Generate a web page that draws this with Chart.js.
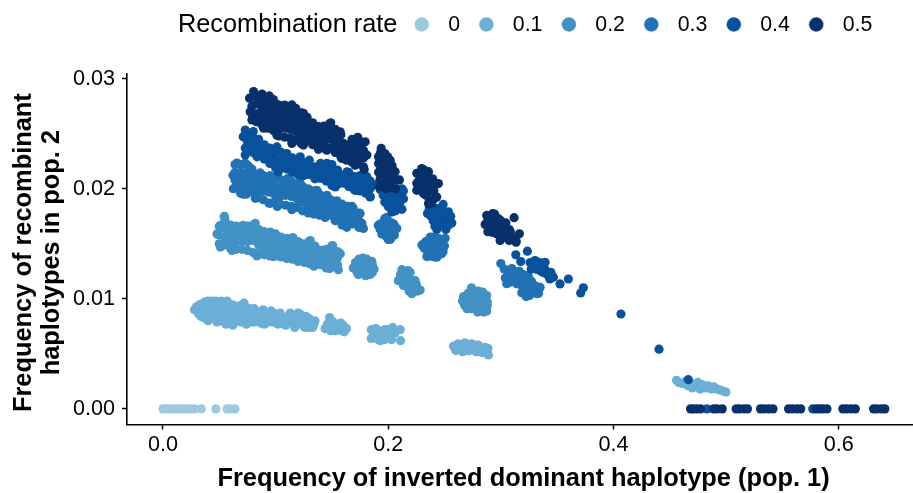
<!DOCTYPE html>
<html><head><meta charset="utf-8">
<style>html,body{margin:0;padding:0;background:#fff}canvas{display:block}</style>
<script src="https://cdn.jsdelivr.net/npm/chart.js@4"></script>
</head><body><canvas id="c" width="913" height="493"></canvas>
<script>
const xTitle = 'Frequency of inverted dominant haplotype (pop. 1)';
const yTitle = ['Frequency of recombinant', 'haplotypes in pop. 2'];
const legendTitle = 'Recombination rate';
const rateLabels = ['0', '0.1', '0.2', '0.3', '0.4', '0.5'];
const rateColors = ['#9ECAE1', '#6BAED6', '#4292C6', '#2171B5', '#08519C', '#08306B'];
const xTicks = [0, 0.2, 0.4, 0.6];
const yTicks = [0, 0.01, 0.02, 0.03];

const rate00 = [[0,0],[.003,0],[.006,0],[.009,0],[.012,0],[.015,0],[.018,0],[.02,0],[.024,0],[.028,0],[.034,0],[.047,0],[.057,0],[.06,0],[.064,0]];

const rate01 = [
[.028,.0090],[.030,.0093],[.031,.0088],[.033,.0095],[.034,.0084],[.035,.0091],[.037,.0097],[.038,.0086],[.039,.0082],[.041,.0094],[.042,.0089],[.044,.0098],[.045,.0085],[.046,.0091],[.048,.0079],[.049,.0095],[.05,.0087],[.052,.0098],[.054,.0083],[.055,.0092],[.057,.0098],[.058,.0079],[.06,.0087],[.062,.0076],[.063,.0094],[.066,.0083],[.068,.0090],[.07,.0079],[.072,.0096],[.075,.0085],[.077,.0091],[.079,.0079],[.082,.0088],[.084,.0083],[.087,.0078],[.089,.0090],[.092,.0085],[.094,.0079],[.096,.0089],[.099,.0083],[.102,.0077],[.104,.0087],[.107,.0081],[.109,.0076],[.112,.0085],[.115,.0079],[.117,.0074],[.12,.0087],[.122,.0082],[.125,.0075],[.127,.0084],[.13,.0078],[.133,.0074],[.135,.0080],
[.032,.0086],[.032,.0092],[.036,.0083],[.036,.0089],[.036,.0095],[.04,.0098],[.04,.0092],[.04,.0086],[.04,.008],[.044,.0088],[.044,.0082],[.047,.0098],[.047,.0093],[.047,.0082],[.051,.0092],[.051,.0086],[.051,.008],[.056,.0095],[.056,.0089],[.056,.0083],[.056,.0077],[.06,.0095],[.06,.0091],[.06,.008],[.065,.0092],[.065,.0088],[.065,.0079],[.069,.0094],[.069,.0086],[.069,.0081],[.074,.0092],[.074,.0087],[.074,.0081],[.074,.0077],[.078,.0086],[.078,.0082],[.081,.0091],[.081,.0085],[.081,.0079],[.086,.0087],[.086,.0082],[.09,.0086],[.09,.0082],[.09,.0077],[.095,.0084],[.095,.0087],[.098,.0087],[.098,.0079],[.101,.0085],[.101,.008],[.105,.0083],[.105,.0078],[.11,.0083],[.11,.0079],[.113,.0087],[.113,.0081],[.118,.0082],[.118,.0078],[.122,.0086],[.122,.0078],[.126,.008],[.126,.0074],[.13,.0082],[.13,.0074],[.134,.0077],
[.144,.0073],[.146,.0077],[.148,.0083],[.15,.0075],[.151,.0079],[.153,.0071],[.155,.0077],[.156,.0072],[.158,.0078],[.159,.0071],[.16,.0076],[.161,.0070],[.163,.0073],[.147,.0073],[.149,.0071],[.152,.0074],[.154,.0074],[.157,.0075],[.16,.0073],
[.185,.0072],[.185,.0064],[.187,.0069],[.189,.0073],[.190,.0066],[.192,.0071],[.193,.0062],[.195,.0068],[.197,.0072],[.197,.0063],[.199,.0066],[.201,.0070],[.203,.0063],[.204,.0074],[.206,.0069],[.2107,.0072],[.211,.0062],[.188,.0065],[.191,.0063],[.195,.0064],[.2,.0072],
[.258,.0057],[.260,.0053],[.262,.0059],[.264,.0055],[.266,.0052],[.268,.0060],[.27,.0056],[.272,.0053],[.274,.0059],[.276,.0055],[.278,.0052],[.28,.0058],[.282,.0054],[.284,.0051],[.286,.0056],[.288,.0052],[.289,.0049],[.2885,.0055],[.261,.0056],[.265,.0058],[.269,.0053],[.273,.0056],[.277,.0058],[.281,.0052],[.285,.0054],[.287,.0054],
[.456,.0026],[.458,.0024],[.461,.0023],[.464,.0025],[.466,.0021],[.468,.0024],[.47,.0019],[.472,.0022],[.475,.0024],[.477,.0018],[.479,.0022],[.482,.0019],[.484,.0021],[.487,.0018],[.489,.0020],[.492,.0018],[.495,.0017],[.498,.0016],[.4999,.00153]];

const rate02 = [
[.0545,.0175],[.048,.0159],[.051,.0147],[.0613,.0144],[.0835,.0139],[.098,.01384],[.11,.01366],[.1255,.0133],[.134,.01296],[.148,.01275],[.1557,.01265],[.1575,.0141],[.1506,.01484],[.1412,.0144],[.1308,.0153],[.1154,.01557],[.0953,.01606],[.082,.01685],[.0713,.01667],[.051,.01667],
[.05,.0166],[.05,.0158],[.05,.015],[.055,.0172],[.055,.0164],[.055,.0156],[.055,.0149],[.06,.0167],[.06,.016],[.06,.0153],[.06,.0146],[.065,.0166],[.065,.0159],[.065,.0152],[.065,.0145],[.07,.0166],[.07,.0159],[.07,.0152],[.07,.0145],[.075,.0166],[.075,.0159],[.075,.0152],[.075,.0144],[.08,.0167],[.08,.016],[.08,.0153],[.08,.0142],[.085,.0163],[.085,.0156],[.085,.0149],[.085,.0141],[.09,.0161],[.09,.0154],[.09,.0147],[.09,.014],[.095,.0158],[.095,.0151],[.095,.0144],[.095,.0139],[.1,.0159],[.1,.0152],[.1,.0145],[.1,.0139],[.105,.0156],[.105,.0149],[.105,.0142],[.105,.0138],[.11,.0155],[.11,.0148],[.11,.0141],[.115,.0155],[.115,.0148],[.115,.0141],[.115,.0136],[.12,.0152],[.12,.0145],[.12,.0138],[.12,.0134],[.125,.015],[.125,.0143],[.125,.0136],[.13,.0152],[.13,.0145],[.13,.0138],[.13,.0132],[.135,.0148],[.135,.0141],[.135,.0134],[.14,.0144],[.14,.0137],[.14,.0131],[.145,.0145],[.145,.0139],[.145,.0133],[.145,.0128],[.15,.0148],[.15,.0142],[.15,.0135],[.15,.0129],[.155,.0143],[.155,.0137],[.155,.0131],
[.169,.0128],[.171,.0133],[.172,.0125],[.174,.0136],[.175,.0130],[.176,.0123],[.178,.0134],[.179,.0127],[.18,.0121],[.182,.0133],[.183,.0127],[.184,.0122],[.186,.0131],[.1875,.0127],[.186,.0124],[.1735,.0122],[.1775,.0137],[.181,.0136],[.1855,.0134],[.1795,.0123],[.1845,.0129],
[.2122,.01265],[.209,.01165],[.2178,.01256],[.224,.01165],[.2284,.0108],[.221,.01047],[.2135,.0112],[.211,.0122],[.215,.0118],[.219,.0112],[.222,.0110],[.218,.0120],[.2165,.0113],[.2125,.0117],[.2195,.0124],[.2205,.0117],[.225,.0113],[.2185,.0107],[.226,.0107],[.2155,.0125],
[.266,.0098],[.268,.0094],[.269,.0102],[.271,.0105],[.272,.0097],[.274,.0110],[.275,.0101],[.276,.0093],[.278,.0104],[.279,.0097],[.281,.0090],[.282,.0103],[.283,.0095],[.285,.0088],[.286,.0100],[.288,.0094],[.2875,.0103],[.288,.0097],[.267,.0102],[.27,.0091],[.2725,.0105],[.2735,.0091],[.2755,.0107],[.2795,.0088],[.28,.0107],[.284,.0106],[.2845,.0098],[.2875,.0089]];

const rate03 = [
[.0657,.02233],[.0622,.02123],[.0625,.0200],[.0714,.0195],[.082,.01913],[.0953,.01868],[.1015,.0184],[.1145,.0181],[.129,.0178],[.153,.0171],[.1633,.0165],[.0731,.02233],[.076,.02205],[.0864,.02144],[.0953,.0212],[.1042,.02084],[.1113,.02096],[.1219,.0205],[.1367,.01986],[.1456,.0194],[.1545,.0189],[.1678,.0184],[.1751,.01776],[.1767,.01685],[.178,.0164],
[.064,.0222],[.064,.0215],[.064,.0208],[.064,.0201],[.069,.0222],[.069,.0215],[.069,.0208],[.069,.0201],[.069,.0196],[.074,.0222],[.074,.0215],[.074,.0208],[.074,.0201],[.074,.0195],[.079,.0218],[.079,.0211],[.079,.0204],[.079,.0197],[.084,.0213],[.084,.0206],[.084,.0199],[.084,.0192],[.089,.0212],[.089,.0205],[.089,.0198],[.089,.019],[.094,.0211],[.094,.0204],[.094,.0197],[.094,.0187],[.099,.0209],[.099,.0202],[.099,.0195],[.099,.0188],[.104,.0207],[.104,.02],[.104,.0193],[.104,.0186],[.109,.0208],[.109,.0201],[.109,.0194],[.109,.0185],[.114,.0207],[.114,.02],[.114,.0193],[.114,.0184],[.119,.0205],[.119,.0198],[.119,.0191],[.119,.0183],[.124,.0202],[.124,.0195],[.124,.0188],[.124,.018],[.129,.02],[.129,.0193],[.129,.0186],[.129,.0179],[.134,.0198],[.134,.0191],[.134,.0184],[.134,.0177],[.139,.0195],[.139,.0188],[.139,.0181],[.139,.0176],[.144,.0192],[.144,.0185],[.144,.0178],[.144,.0174],[.149,.019],[.149,.0183],[.149,.0176],[.154,.0187],[.154,.018],[.154,.0173],[.159,.0186],[.159,.0179],[.159,.0172],[.159,.0167],[.164,.0184],[.164,.0177],[.164,.017],[.169,.0182],[.169,.0175],[.169,.0168],[.174,.0178],[.174,.0171],[.174,.0165],
[.1988,.0174],[.1912,.01667],[.2077,.0164],[.2018,.0154],[.1944,.0159],[.199,.0165],[.203,.0169],[.196,.017],[.204,.016],[.198,.0157],[.193,.0168],[.195,.0163],[.197,.0173],[.2,.0158],[.2,.017],[.202,.0165],[.205,.0168],[.2055,.0158],[.2055,.0165],[.193,.0163],[.1975,.0162],[.2,.0154],[.203,.0156],
[.2373,.0156],[.23,.0149],[.2344,.01384],[.2432,.01378],[.2488,.0143],[.2506,.0155],[.2435,.015],[.2375,.0147],[.2335,.0152],[.2395,.0141],[.245,.0145],[.234,.0145],[.236,.0153],[.24,.0156],[.2415,.0147],[.2445,.0155],[.247,.015],[.2475,.0141],[.241,.0138],[.2375,.0139],[.232,.0146],[.236,.0142],[.25,.0148],
[.30,.0132],[.3053,.01138],[.3098,.01275],[.3186,.01056],[.332,.01047],[.3349,.01104],[.3243,.0121],[.3154,.0123],[.3142,.01138],[.3231,.0112],[.3272,.0116],[.3095,.0119],[.319,.0117],[.327,.0106],[.312,.0125],[.317,.0113],[.322,.0118],[.326,.011],[.33,.0112],[.322,.0106],[.308,.0115],[.303,.0127],[.307,.0122],[.304,.0119],[.3135,.0118],[.3165,.0125],[.32,.0122],[.3205,.0112],[.3245,.0115],[.3285,.0109],[.3315,.0107],[.3315,.0111],[.3335,.0105],[.3255,.0103],[.3225,.0102]];

const rate04 = [
[.0731,.02534],[.0713,.02473],[.0731,.0237],[.0731,.02306],[.0835,.0229],[.1024,.02153],[.1219,.02123],[.1397,.02096],[.153,.02016],[.16,.0205],[.1707,.01986],[.184,.01925],[.1867,.0203],[.181,.0211],[.0802,.0252],[.1012,.0238],[.1219,.0229],[.1456,.0223],[.1633,.02153],
[.075,.025],[.075,.0243],[.075,.0236],[.08,.0247],[.08,.024],[.08,.0233],[.085,.0245],[.085,.0238],[.085,.0231],[.09,.024],[.09,.0233],[.09,.0227],[.095,.0237],[.095,.023],[.095,.0223],[.1,.0233],[.1,.0226],[.1,.0219],[.105,.0233],[.105,.0226],[.105,.0219],[.11,.0232],[.11,.0225],[.11,.0218],[.115,.0228],[.115,.0221],[.115,.0215],[.12,.0227],[.12,.022],[.12,.0213],[.125,.0224],[.125,.0217],[.125,.0212],[.13,.0226],[.13,.0219],[.13,.0213],[.135,.022],[.135,.0214],[.135,.0209],[.14,.0223],[.14,.0216],[.14,.021],[.145,.0218],[.145,.0212],[.145,.0207],[.15,.0222],[.15,.0215],[.15,.0208],[.15,.0203],[.155,.0217],[.155,.021],[.155,.0204],[.16,.0212],[.16,.0206],[.165,.0215],[.165,.0208],[.165,.0202],[.17,.0211],[.17,.0205],[.17,.0199],[.175,.0212],[.175,.0205],[.175,.0198],[.18,.021],[.18,.0203],[.18,.0196],[.184,.0207],[.184,.02],[.184,.0193],
[.1914,.0205],[.2018,.02],[.2122,.02],[.2136,.0191],[.2122,.01813],[.2033,.0179],[.1956,.0194],[.2033,.0188],[.2085,.0195],[.2085,.0185],[.1995,.0192],[.197,.0188],[.2,.0197],[.206,.0191],[.2065,.018],[.21,.0186],[.2,.0184],[.2055,.0198],[.193,.0199],[.1955,.0201],[.198,.0199],[.2045,.0193],[.2105,.0196],[.2135,.0198],[.2075,.02],[.2035,.0184],[.2115,.0191],[.1975,.0196],[.2045,.0186],
[.2488,.01858],[.2535,.0179],[.2565,.0169],[.2512,.0163],[.2432,.0163],[.2349,.01776],[.24,.0171],[.2432,.0182],[.2475,.0174],[.2515,.0171],[.2445,.0169],[.238,.0175],[.2465,.0181],[.2535,.0174],[.247,.0166],[.2505,.0178],[.2365,.0182],[.2395,.0179],[.242,.0176],[.2445,.0179],[.249,.017],[.2535,.0167],[.246,.0172],[.2415,.0166],[.2555,.0175],
[.3236,.01433],[.3133,.014],[.3177,.01338],[.326,.0133],[.3304,.01348],[.3393,.01332],[.3349,.01256],[.3467,.01195],[.3526,.01135],[.36,.0118],[.3709,.01053],[.3733,.011],[.3408,.01226],[.3311,.0127],[.327,.0127],[.3365,.0129],[.3345,.0133],[.3425,.0121],[.329,.0129],[.3325,.013],[.3375,.0124],[.339,.0127],[.3435,.0118],[.3445,.0124],
[.4067,.00862],[.4405,.00542],[.4665,.00265],[.483,0],[.577,0]];

const rate05 = [
[.0805,.02883],[.0769,.02823],[.0775,.027],[.079,.02625],[.0944,.02844],[.1026,.02762],[.1145,.02762],[.1248,.02686],[.1381,.02564],[.149,.026],[.1574,.02518],[.1603,.02412],[.173,.02467],[.1796,.02427],[.1811,.02306],[.1787,.02175],[.1707,.02214],[.1588,.02275],[.1455,.02351],[.1381,.02358],[.1248,.02397],[.1145,.02412],[.1011,.02488],[.0894,.0255],
[.079,.0275],[.079,.0268],[.083,.0284],[.083,.0277],[.083,.0268],[.083,.0261],[.088,.0286],[.088,.0279],[.088,.0272],[.088,.0265],[.088,.0258],[.093,.0283],[.093,.0276],[.093,.0269],[.093,.0262],[.093,.0255],[.098,.0281],[.098,.0274],[.098,.0267],[.098,.026],[.098,.0253],[.103,.0275],[.103,.0268],[.103,.0261],[.103,.0254],[.103,.0248],[.108,.0276],[.108,.0269],[.108,.0262],[.108,.0255],[.108,.0247],[.113,.0275],[.113,.0268],[.113,.0261],[.113,.0254],[.113,.0246],[.118,.0273],[.118,.0266],[.118,.0259],[.118,.0252],[.118,.0244],[.123,.0269],[.123,.0262],[.123,.0255],[.123,.0248],[.123,.0241],[.128,.0265],[.128,.0258],[.128,.0251],[.128,.0244],[.133,.026],[.133,.0253],[.133,.0246],[.133,.024],[.138,.0256],[.138,.0249],[.138,.0242],[.143,.0257],[.143,.025],[.143,.0243],[.143,.0237],[.148,.0259],[.148,.0252],[.148,.0245],[.148,.0237],[.153,.0254],[.153,.0247],[.153,.024],[.153,.0233],[.158,.0249],[.158,.0242],[.158,.0235],[.158,.0229],[.163,.024],[.163,.0233],[.163,.0226],[.168,.0245],[.168,.0238],[.168,.0231],[.168,.0224],[.173,.0246],[.173,.0239],[.173,.0232],[.173,.0225],[.178,.0242],[.178,.0235],[.178,.0228],[.178,.022],
[.1938,.02367],[.1914,.0229],[.2018,.0226],[.2062,.02155],[.21,.0208],[.2027,.0201],[.1929,.0209],[.1958,.022],[.2003,.0214],[.1973,.0206],[.1985,.0225],[.1945,.0225],[.1915,.0215],[.2,.0208],[.204,.0208],[.1945,.0214],[.2,.022],[.197,.0232],[.1915,.0223],[.193,.0232],[.196,.0228],[.1935,.022],[.1975,.0222],[.1995,.0229],[.2035,.0221],[.203,.0214],[.1925,.0202],[.198,.02],[.201,.0203],[.2075,.0208],[.2065,.02],[.1945,.0207],[.1955,.0232],
[.2298,.02184],[.2254,.0214],[.2254,.01986],[.2358,.02155],[.2446,.02047],[.2431,.01925],[.2358,.01865],[.2313,.01956],[.2373,.0203],[.2313,.0206],[.2275,.0208],[.2254,.0205],[.232,.0213],[.2395,.0209],[.2405,.0198],[.237,.019],[.2288,.0201],[.2275,.0214],[.2295,.0209],[.232,.0217],[.234,.0208],[.2345,.02],[.2335,.0194],[.2365,.0198],[.2395,.0203],[.241,.0191],[.2385,.0187],[.2425,.0204],[.2275,.0202],
[.2928,.01774],[.2875,.01758],[.2861,.01676],[.3118,.01737],[.292,.01606],[.3165,.01591],[.3136,.01515],[.2994,.0153],[.3045,.0169],[.2979,.01728],[.2994,.01637],[.3067,.01621],[.3097,.0156],[.3038,.0156],[.2905,.0168],[.2945,.0172],[.2945,.0164],[.3,.0168],[.3035,.0165],[.3075,.0163],[.288,.017],[.2965,.0159],[.3065,.0157],[.2895,.0174],[.2885,.0161],[.2925,.017],[.296,.0167],[.2975,.0159],[.3,.0171],[.3015,.016],[.306,.0162],[.3085,.0161],[.3105,.0155],[.3135,.0153],[.3,.0155],[.3075,.0153],[.2945,.0177],
[.4685,0],[.471,0],[.474,0],[.4773,0],[.489,0],[.492,0],[.4966,0],[.509,0],[.512,0],[.516,0],[.519,0],[.5306,0],[.534,0],[.538,0],[.5417,0],[.5555,0],[.559,0],[.563,0],[.5663,0],[.58,0],[.583,0],[.586,0],[.5896,0],[.6037,0],[.607,0],[.611,0],[.6148,0],[.631,0],[.634,0],[.638,0],[.641,0]];

const seriesData = [rate00, rate01, rate02, rate03, rate04, rate05];

const FONT = "'Liberation Sans', Arial, Helvetica, sans-serif";

function legendDot(color) {
  const c = document.createElement('canvas');
  c.width = 16; c.height = 16;
  const g = c.getContext('2d');
  g.fillStyle = color;
  g.beginPath(); g.arc(8, 7.5, 7.2, 0, Math.PI * 2); g.fill();
  return c;
}

function nudgeTitle(scale, dx, dy) {
  const draw = scale.drawTitle;
  scale.drawTitle = function () {
    this.ctx.save();
    this.ctx.translate(dx, dy);
    draw.call(this);
    this.ctx.restore();
  };
}

const placeHeader = {
  id: 'placeHeader',
  afterLayout(chart) {
    const t = chart.titleBlock, l = chart.legend;
    t.left = 178; t.right = 600; t.top = 10; t.bottom = t.top + t.height;
    const pad = l.options.labels.padding;
    l.left = 405.9 - pad; l.right = 913; l.top = 25 - pad - l.options.labels.font.size / 2;
    l.bottom = l.top + l.height;
    if (!chart.$nudged) {
      chart.$nudged = true;
      nudgeTitle(chart.scales.x, 3.5, 0);
      nudgeTitle(chart.scales.y, 0, 3.5);
    }
  }
};

new Chart(document.getElementById('c'), {
  type: 'scatter',
  data: {
    datasets: seriesData.map((pts, i) => ({
      label: rateLabels[i],
      data: pts.map(p => ({ x: p[0], y: p[1] })),
      backgroundColor: rateColors[i],
      borderWidth: 0,
      pointRadius: 4.6,
      pointHoverRadius: 4.6,
      order: seriesData.length - i
    }))
  },
  plugins: [placeHeader],
  options: {
    responsive: false,
    animation: false,
    layout: { autoPadding: false, padding: { top: 1.5, left: 0, right: 0, bottom: 0 } },
    plugins: {
      tooltip: { enabled: false },
      title: {
        display: true, text: legendTitle, align: 'start', color: '#000',
        font: { family: FONT, size: 25.3, weight: 'normal', lineHeight: 1.2 },
        padding: 0
      },
      legend: {
        display: true, position: 'top', align: 'start',
        labels: {
          usePointStyle: true,
          pointStyleWidth: 31.6,
          boxHeight: 20,
          padding: 10.6,
          color: '#000',
          font: { family: FONT, size: 21.3 },
          generateLabels: () => rateLabels.map((t, i) => ({
            text: t, datasetIndex: i, hidden: false, lineWidth: 0,
            fillStyle: rateColors[i], strokeStyle: rateColors[i],
            fontColor: '#000', pointStyle: legendDot(rateColors[i])
          }))
        }
      }
    },
    scales: {
      x: {
        type: 'linear', min: -0.0319, max: 0.666,
        afterFit: s => { s.height = 68.5; s.paddingLeft = 0; s.paddingRight = 0; },
        afterBuildTicks: s => { s.ticks = xTicks.map(v => ({ value: v })); },
        grid: { display: true, drawOnChartArea: false, drawTicks: true, tickLength: 5, tickWidth: 1.5, tickColor: '#000' },
        border: { display: true, color: '#000', width: 1.6 },
        ticks: { color: '#000', padding: 3, maxRotation: 0, font: { family: FONT, size: 21.6 }, callback: v => Number(v).toFixed(1) },
        title: { display: true, text: xTitle, color: '#000', padding: { top: 0, bottom: 0.5 }, font: { family: FONT, size: 25.4, weight: 'bold', lineHeight: 1.07 } }
      },
      y: {
        type: 'linear', min: -0.00142, max: 0.03045,
        afterFit: s => { s.width = 127; s.paddingTop = 0; s.paddingBottom = 0; },
        afterBuildTicks: s => { s.ticks = yTicks.map(v => ({ value: v })); },
        grid: { display: true, drawOnChartArea: false, drawTicks: true, tickLength: 5, tickWidth: 1.5, tickColor: '#000' },
        border: { display: true, color: '#000', width: 1.6 },
        ticks: { color: '#000', padding: 7, font: { family: FONT, size: 21.6 }, callback: v => Number(v).toFixed(2) },
        title: { display: true, text: yTitle, color: '#000', padding: { top: 10, bottom: 0 }, font: { family: FONT, size: 25.4, weight: 'bold', lineHeight: 1.1 } }
      }
    }
  }
});
</script></body></html>
